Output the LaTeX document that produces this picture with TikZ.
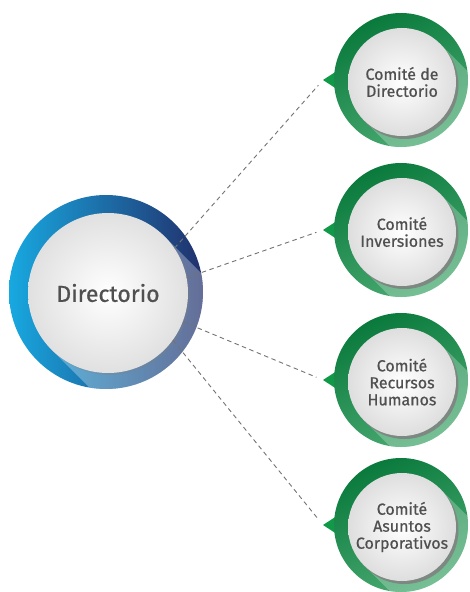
\documentclass[tikz,border=0pt]{standalone}
\usepackage{fontspec}
\setmainfont{Fira Sans}
\newfontfamily\ballfont{Fira Sans}[FakeBold=0.7]
\usepackage{xcolor}
\usepackage{tikz}
\usetikzlibrary{shadows, positioning, calc}
\definecolor{cyanring}{HTML}{18A8E0}
\definecolor{bluemid}{HTML}{0D5C9E}
\definecolor{navyring}{HTML}{21306C}
\definecolor{greendark}{HTML}{0A7A3C}
\definecolor{greenmid}{HTML}{109A48}
\definecolor{greenlight}{HTML}{4AAA72}
\definecolor{textgray}{HTML}{505050}

\begin{document}
\begin{tikzpicture}[x=1pt, y=-1pt,
        link/.style={draw=black!55, line width=0.9pt, dash pattern=on 4.5pt off 3.5pt, shorten >=7pt},
        bigball/.style={circle, minimum size=160pt, inner sep=0pt, inner color=white, outer color=black!12,
            text=textgray, font=\ballfont\fontsize{23}{26}\selectfont,
            drop shadow={shadow xshift=2pt, shadow yshift=-2pt, opacity=.25}},
        ball/.style={circle, minimum size=108pt, inner sep=0pt, align=center, inner color=white, outer color=black!13,
            text=textgray, font=\ballfont\fontsize{16}{17}\selectfont,
            drop shadow={shadow xshift=2.5pt, shadow yshift=-3pt, opacity=.85}}]
        \useasboundingbox (0,0) rectangle (469,592);

        \shade[left color=cyanring, middle color=bluemid, right color=navyring] (106,292) circle[radius=97];
        \begin{scope}
            \clip (106,292) circle[radius=97];
            \fill[white, opacity=.3] (164.6,236.4) -- ++(200,200) -- (251.4,549.6) -- (51.4,349.6) -- cycle;
        \end{scope}
        \node[bigball] (dir) at (108,293) {Directorio};

        \foreach \i/\cy/\txt in {1/80/{Comité de\\Directorio}, 2/230/{Comité\\Inversiones},
                3/380/{Comité\\Recursos\\Humanos}, 4/525/{Comité\\Asuntos\\Corporativos}} {
            \fill[greenmid] (323,\cy) -- (343,\cy-13) -- (343,\cy+13) -- cycle;
            \shade[top color=greendark, middle color=greenmid, bottom color=greenlight, shading angle=25] (401,\cy) circle[radius=67];
            \begin{scope}
                \clip (401,\cy) circle[radius=67];
                \fill[white, opacity=.25] (440.2,\cy-36.2) -- ++(200,200) -- (563.8,\cy+240.2) -- (363.8,\cy+40.2) -- cycle;
            \end{scope}
            \node[ball] (c\i) at (402,\cy+2) {\txt};
            \coordinate (t\i) at (323,\cy);
        }

        \draw[link] (dir.34) -- (t1);
        \draw[link] (dir.11) -- (t2);
        \draw[link] (dir.-21) -- (t3);
        \draw[link] (dir.-36) -- (t4);
    \end{tikzpicture}
\end{document}
